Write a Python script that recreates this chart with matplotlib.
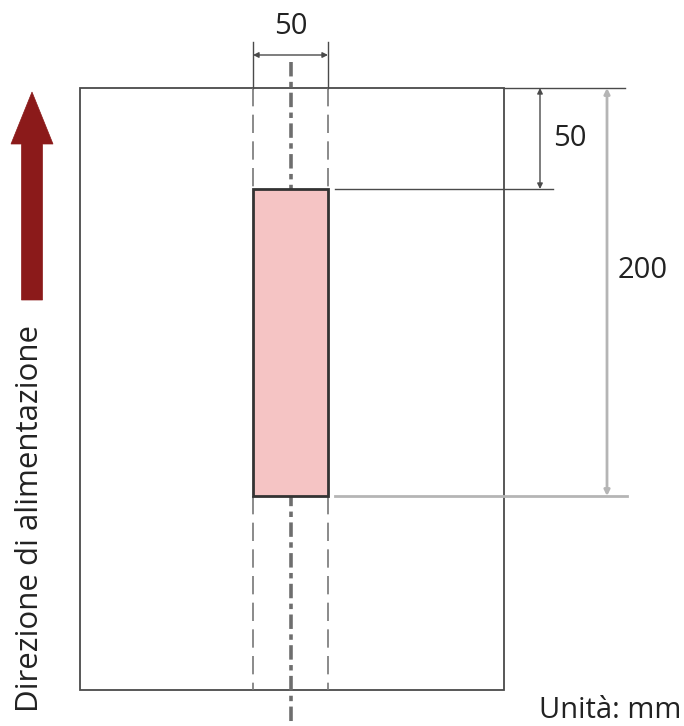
import matplotlib
matplotlib.use("Agg")
import matplotlib.pyplot as plt
from matplotlib.patches import Rectangle, FancyArrow

# Labels / values
dim_labels = ["50", "50", "200"]
direction_label = "Direzione di alimentazione"
unit_label = "Unità: mm"

# Layout (pixel units of the diagram canvas)
paper = dict(x0=80, y0=88, x1=504, y1=690)
zone = dict(x0=253, y0=189, x1=328, y1=496)
center_x = 291

fig = plt.figure(figsize=(6.84, 7.26), dpi=100)
ax = fig.add_axes([0, 0, 1, 1])
ax.set_xlim(0, 684)
ax.set_ylim(726, 0)
ax.axis("off")

dark = "#4a4a4a"
lgray = "#b5b5b5"
font = "Open Sans"
fs = 21

# paper outline
ax.add_patch(Rectangle((paper["x0"], paper["y0"]), paper["x1"] - paper["x0"],
                       paper["y1"] - paper["y0"], fill=False, ec=dark, lw=1.3))
ax.plot([paper["x1"], 625], [paper["y0"], paper["y0"]], color=dark, lw=1.0)

# dashed side lines
for xv in (zone["x0"], zone["x1"]):
    ax.plot([xv, xv], [paper["y0"], zone["y0"]], color="#777777", lw=1.2, ls=(0, (11, 5)))
    ax.plot([xv, xv], [zone["y1"], paper["y1"]], color="#777777", lw=1.2, ls=(0, (11, 5)))
    ax.plot([xv, xv], [42, paper["y0"]], color=dark, lw=1.0)

# centre dash-dot line
ax.plot([center_x, center_x], [62, 726], color="#6e6e6e", lw=2.6, ls=(0, (4, 1.5, 1.5, 1.5)))

# pink zone
ax.add_patch(Rectangle((zone["x0"], zone["y0"]), zone["x1"] - zone["x0"],
                       zone["y1"] - zone["y0"], fc="#f5c4c4", ec="#333333", lw=2.0, zorder=3))

# top width dimension
ax.annotate("", xy=(zone["x0"], 55), xytext=(zone["x1"], 55),
            arrowprops=dict(arrowstyle="<|-|>", color=dark, lw=1.0, mutation_scale=8, shrinkA=0, shrinkB=0))
ax.text(center_x, 27, dim_labels[0], ha="center", va="center", fontsize=fs, color="#222222", family=font)

# right 50 dimension
ax.plot([335, 553], [zone["y0"], zone["y0"]], color=dark, lw=1.0)
ax.annotate("", xy=(540, paper["y0"]), xytext=(540, zone["y0"]),
            arrowprops=dict(arrowstyle="<|-|>", color=dark, lw=1.0, mutation_scale=8, shrinkA=0, shrinkB=0))
ax.text(570, 138, dim_labels[1], ha="center", va="center", fontsize=fs, color="#222222", family=font)

# 200 dimension
ax.plot([335, 627], [zone["y1"], zone["y1"]], color=lgray, lw=2.0)
ax.annotate("", xy=(607, paper["y0"]), xytext=(607, zone["y1"]),
            arrowprops=dict(arrowstyle="<|-|>", color=lgray, lw=2.0, mutation_scale=8, shrinkA=0, shrinkB=0))
ax.text(643, 270, dim_labels[2], ha="center", va="center", fontsize=fs, color="#222222", family=font)

# feed direction arrow
ax.add_patch(FancyArrow(32, 300, 0, -208, width=21, head_width=42, head_length=52,
                        length_includes_head=True, fc="#8b1a1a", ec="#8b1a1a", lw=0.5))
ax.text(30, 518, direction_label, rotation=90, ha="center", va="center",
        fontsize=22.5, color="#222222", family=font)

ax.text(681, 710, unit_label, ha="right", va="center", fontsize=fs, color="#222222", family=font)

fig.savefig("out.png", dpi=100)
